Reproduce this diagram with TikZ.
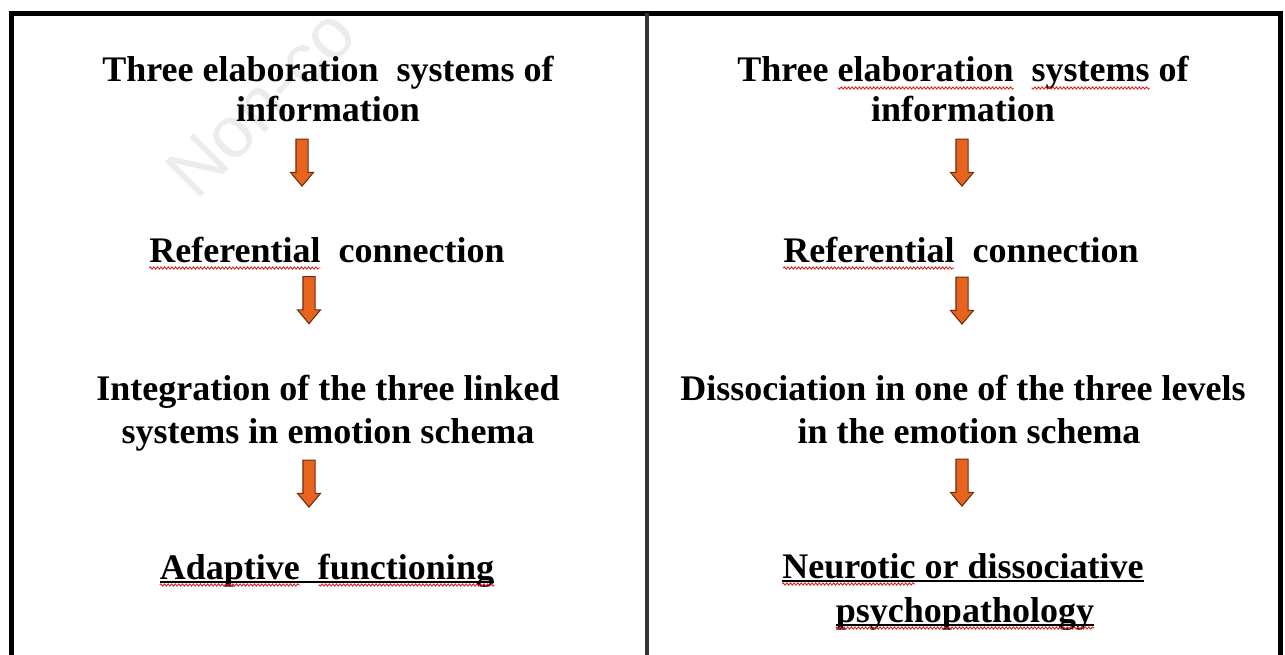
\documentclass[tikz,border=0pt]{standalone}
\usepackage{fontspec}
\setmainfont{Liberation Serif}
\newfontfamily\wmfont{Liberation Sans}
\usetikzlibrary{shapes.arrows,decorations.pathmorphing}
\definecolor{arrowfill}{RGB}{232,100,30}
\definecolor{arrowdraw}{RGB}{110,45,20}
\definecolor{spellred}{RGB}{215,40,40}
\definecolor{wmgray}{RGB}{236,236,236}
\newcommand\bigfont{\fontsize{36}{42}\selectfont\bfseries}
\newlength\wRef \newlength\wAda \newlength\wFun \newlength\wThE \newlength\wEla
\newlength\wThS \newlength\wSys \newlength\wNeu
\newcommand\mw[2]{\settowidth{#1}{\bigfont #2}}
\begin{document}
\mw\wRef{Referential}%
\mw\wAda{Adaptive}%
\mw\wFun{functioning}%
\mw\wThE{Three elaboration}%
\mw\wEla{elaboration}%
\mw\wThS{Three elaboration\ \ systems}%
\mw\wSys{systems}%
\mw\wNeu{Neurotic}%
\begin{tikzpicture}[x=1pt,y=-1pt,
  txt/.style={font=\bigfont, inner sep=0pt, anchor=base},
  arr/.style={single arrow, rotate=-90, draw=arrowdraw, fill=arrowfill, line width=1.1pt,
    minimum height=47pt, minimum width=22pt, single arrow head extend=5.5pt,
    single arrow tip angle=80, inner xsep=0pt, inner ysep=5.5pt},
  wave/.style={spellred, line width=0.9pt, decorate, decoration={snake, amplitude=1.1pt, segment length=3.6pt}},
  uline/.style={line width=1.7pt, black},
  frame/.style={line width=5pt, line join=miter},
  divider/.style={line width=3.5pt, black!80}]
\useasboundingbox (0,0) rectangle (1285,655);
\fill[white] (0,0) rectangle (1285,655);
% watermark
\begin{scope}
\clip (0,0) rectangle (1285,655);
\node[text=wmgray, font=\wmfont\fontsize{72}{72}\selectfont, anchor=base west, rotate=45, inner sep=0pt] (wm) at (196,202) {Non-co};
\end{scope}
% frame
\draw[frame] (11.5,665) -- (11.5,13.5) -- (1280,13.5) -- (1280,665);
\draw[divider] (647,665) -- (647,13.5);
% left column
\node[txt] (l1a) at (328,82) {Three elaboration\ \ systems of};
\node[txt] (l1b) at (328,122) {information};
\node[txt] (l2) at (327,262) {Referential\ \ connection};
\node[txt] (l3a) at (328,400) {Integration of the three linked};
\node[txt] (l3b) at (328,443) {systems in emotion schema};
\node[txt] (l4) at (327,579) {Adaptive\ \ functioning};
\node[arr] (la1) at (302,159) {};
\node[arr] (la2) at (309,296.5) {};
\node[arr] (la3) at (309,480) {};
% left underlines
\draw[wave] ([yshift=-6pt]l2.base west) -- ++(\wRef,0);
\draw[uline] ([yshift=-3pt]l4.base west) -- ([yshift=-3pt]l4.base east);
\draw[wave] ([yshift=-6pt]l4.base west) -- ++(\wAda,0);
\draw[wave] ([yshift=-6pt]l4.base east) -- ++(-\wFun,0);
% right column
\node[txt] (r1a) at (963,82) {Three elaboration\ \ systems of};
\node[txt] (r1b) at (963,122) {information};
\node[txt] (r2) at (961,262) {Referential\ \ connection};
\node[txt] (r3a) at (963,400) {Dissociation in one of the three levels};
\node[txt] (r3b) at (969,443) {in the emotion schema};
\node[txt] (r4a) at (963,578) {Neurotic or dissociative};
\node[txt] (r4b) at (965,622) {psychopathology};
\node[arr] (ra1) at (962,159) {};
\node[arr] (ra2) at (962,297) {};
\node[arr] (ra3) at (962,479) {};
% right underlines
\draw[wave] ([yshift=-6pt]r1a.base west) ++(\wThE,0) -- ++(-\wEla,0);
\draw[wave] ([yshift=-6pt]r1a.base west) ++(\wThS,0) -- ++(-\wSys,0);
\draw[wave] ([yshift=-6pt]r2.base west) -- ++(\wRef,0);
\draw[uline] ([yshift=-3pt]r4a.base west) -- ([yshift=-3pt]r4a.base east);
\draw[wave] ([yshift=-6pt]r4a.base west) -- ++(\wNeu,0);
\draw[uline] ([yshift=-3pt]r4b.base west) -- ([yshift=-3pt]r4b.base east);
\draw[wave] ([yshift=-6pt]r4b.base west) -- ([yshift=-6pt]r4b.base east);
\end{tikzpicture}
\end{document}
